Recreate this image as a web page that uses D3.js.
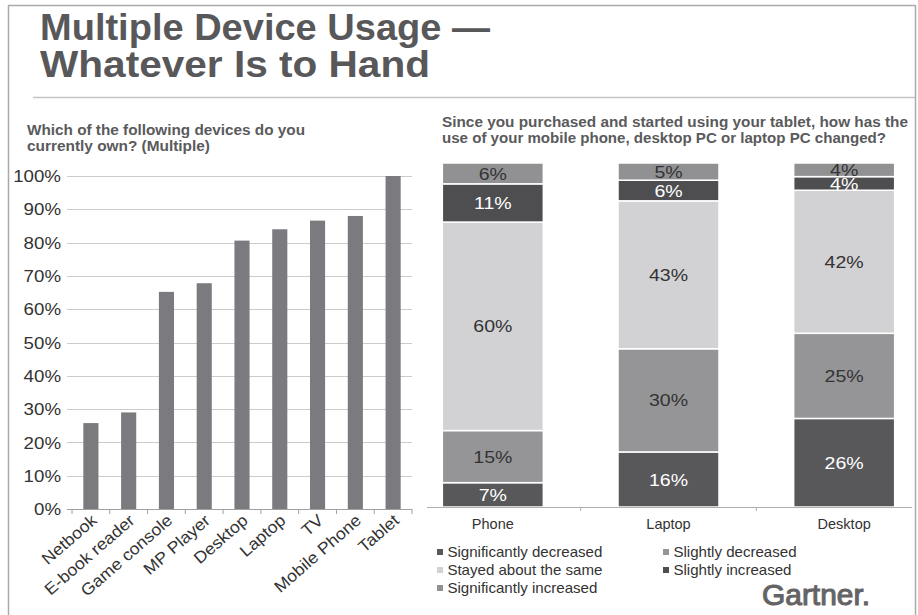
<!DOCTYPE html>
<html><head><meta charset="utf-8">
<script src="https://cdn.jsdelivr.net/npm/d3@7"></script>
<style>html,body{margin:0;padding:0;background:#fff;}svg{display:block;font-family:Arial,"Liberation Sans",sans-serif;}</style>
</head><body>
<script>
// ---- data ----
const devices = ["Netbook","E-book reader","Game console","MP Player","Desktop","Laptop","TV","Mobile Phone","Tablet"];
const ownership = [0.258, 0.29, 0.652, 0.678, 0.806, 0.84, 0.866, 0.88, 1.0];
const yTicks = [0,0.1,0.2,0.3,0.4,0.5,0.6,0.7,0.8,0.9,1.0];

const usageDevices = ["Phone","Laptop","Desktop"];
const usageSeries = ["Significantly decreased","Slightly decreased","Stayed about the same","Slightly increased","Significantly increased"];
const sigDecreased   = [7, 16, 26];
const slDecreased    = [15, 30, 25];
const stayedSame     = [60, 43, 42];
const slIncreased    = [11, 6, 4];
const sigIncreased   = [6, 5, 4];

const W = 918, H = 615;
const svg = d3.select("body").append("svg").attr("width", W).attr("height", H);
svg.append("rect").attr("width", W).attr("height", H).attr("fill", "#fff");

// frame
const frame = "#aaaaaa";
svg.append("line").attr("x1",8).attr("x2",915).attr("y1",5.5).attr("y2",5.5).attr("stroke",frame).attr("stroke-width",1.5);
svg.append("line").attr("x1",8.5).attr("x2",8.5).attr("y1",5).attr("y2",615).attr("stroke",frame).attr("stroke-width",1.5);
svg.append("line").attr("x1",915.5).attr("x2",915.5).attr("y1",5).attr("y2",615).attr("stroke",frame).attr("stroke-width",1.5);
svg.append("line").attr("x1",33).attr("x2",915).attr("y1",97.5).attr("y2",97.5).attr("stroke","#c4c4c4").attr("stroke-width",1.5);

// title
const title = svg.append("text").attr("fill","#58585a").attr("font-weight","bold").attr("font-size",36);
title.append("tspan").attr("x",40).attr("y",40).attr("textLength",450).attr("lengthAdjust","spacingAndGlyphs").text("Multiple Device Usage —");
title.append("tspan").attr("x",40).attr("y",77).attr("textLength",390).attr("lengthAdjust","spacingAndGlyphs").text("Whatever Is to Hand");

// ---- left chart ----
const lt = svg.append("text").attr("fill","#5a5a5c").attr("font-weight","bold").attr("font-size",14);
lt.append("tspan").attr("x",27).attr("y",135).attr("textLength",278).attr("lengthAdjust","spacingAndGlyphs").text("Which of the following devices do you");
lt.append("tspan").attr("x",27).attr("y",151).attr("textLength",183).attr("lengthAdjust","spacingAndGlyphs").text("currently own? (Multiple)");

const x1 = d3.scaleBand().domain(devices).range([72, 412]).paddingInner(0.6).paddingOuter(0.3);
const y1 = d3.scaleLinear().domain([0,1]).range([509, 176]);

const gL = svg.append("g");
gL.selectAll("line.grid").data(yTicks.filter(d=>d>0)).join("line")
  .attr("x1",67).attr("x2",412).attr("y1",d=>Math.round(y1(d))+0.5).attr("y2",d=>Math.round(y1(d))+0.5)
  .attr("stroke","#cccccc").attr("stroke-width",1.2);
gL.selectAll("text.yt").data(yTicks).join("text")
  .attr("text-anchor","end").attr("font-size",17).attr("fill","#333")
  .attr("transform",d=>`translate(61,${y1(d)}) scale(1.1,1)`).attr("dy","0.36em")
  .text(d3.format(".0%"));
gL.selectAll("rect").data(devices).join("rect")
  .attr("x",d=>x1(d)).attr("width",x1.bandwidth())
  .attr("y",(d,i)=>y1(ownership[i])).attr("height",(d,i)=>y1(0)-y1(ownership[i]))
  .attr("fill","#7b7b7f");
// bottom axis
gL.append("line").attr("x1",67).attr("x2",412).attr("y1",509.5).attr("y2",509.5).attr("stroke","#a0a0a0").attr("stroke-width",1.2);
const bounds1 = d3.range(devices.length+1).map(i=>72 + i*x1.step());
gL.selectAll("line.tk").data(bounds1).join("line")
  .attr("x1",d=>d).attr("x2",d=>d).attr("y1",509).attr("y2",514).attr("stroke","#a0a0a0");
gL.selectAll("text.xl").data(devices).join("text")
  .attr("text-anchor","end").attr("font-size",16.5).attr("fill","#333")
  .attr("transform",d=>`translate(${x1(d)+x1.bandwidth()/2+7},${522}) rotate(-41) scale(1.08,1)`)
  .text(d=>d);

// ---- right chart ----
const rt = svg.append("text").attr("fill","#5a5a5c").attr("font-weight","bold").attr("font-size",14);
rt.append("tspan").attr("x",442).attr("y",127).attr("textLength",466).attr("lengthAdjust","spacingAndGlyphs").text("Since you purchased and started using your tablet, how has the");
rt.append("tspan").attr("x",442).attr("y",143).attr("textLength",444).attr("lengthAdjust","spacingAndGlyphs").text("use of your mobile phone, desktop PC or laptop PC changed?");

const seriesVals = [sigDecreased, slDecreased, stayedSame, slIncreased, sigIncreased];
const table = usageDevices.map((d,i)=>{
  const o = {device:d};
  usageSeries.forEach((s,j)=>o[s]=seriesVals[j][i]);
  return o;
});
const stack = d3.stack().keys(usageSeries).offset(d3.stackOffsetExpand);
const layers = stack(table);

const x2 = d3.scaleBand().domain(usageDevices).range([405, 932]).paddingInner(0.425).paddingOuter(0.2125);
const y2 = d3.scaleLinear().domain([0,1]).range([507, 163]);
const fills = ["#58585a","#959597","#d2d2d4","#4e4e50","#919193"];
const labelFill = ["#ffffff","#333333","#333333","#ffffff","#333333"];

const gR = svg.append("g");
layers.forEach((layer,j)=>{
  const g = gR.append("g");
  g.selectAll("rect").data(layer).join("rect")
    .attr("x",d=>x2(d.data.device)).attr("width",x2.bandwidth())
    .attr("y",d=>y2(d[1])).attr("height",d=>y2(d[0])-y2(d[1]))
    .attr("fill",fills[j]).attr("stroke","#fff").attr("stroke-width",1.5);
});
layers.forEach((layer,j)=>{
  gR.append("g").selectAll("text").data(layer).join("text")
    .attr("transform",d=>`translate(${x2(d.data.device)+x2.bandwidth()/2},${(y2(d[0])+y2(d[1]))/2}) scale(1.15,1)`)
    .attr("dy","0.36em")
    .attr("text-anchor","middle").attr("font-size",17).attr("fill",labelFill[j])
    .text(d=>d.data[layer.key]+"%");
});
// axis
gR.append("line").attr("x1",427).attr("x2",912).attr("y1",507.5).attr("y2",507.5).attr("stroke","#b0b0b0").attr("stroke-width",1.2);
const bounds2 = [1,2].map(i=>405 + i*x2.step());
gR.selectAll("line.tk").data(bounds2).join("line")
  .attr("x1",d=>d).attr("x2",d=>d).attr("y1",507).attr("y2",511).attr("stroke","#b0b0b0");
gR.selectAll("text.xl").data(usageDevices).join("text")
  .attr("x",d=>x2(d)+x2.bandwidth()/2).attr("y",529).attr("text-anchor","middle")
  .attr("font-size",14.5).attr("fill","#333").text(d=>d);

// legend
const legPos = [[437,552],[663,552],[437,570],[663,570],[437,588]];
const leg = svg.append("g").selectAll("g").data(usageSeries).join("g")
  .attr("transform",(d,i)=>`translate(${legPos[i][0]},${legPos[i][1]})`);
leg.append("rect").attr("x",0).attr("y",-3).attr("width",6).attr("height",6).attr("fill",(d,i)=>fills[i]);
leg.append("text").attr("x",10).attr("dy","0.36em").attr("font-size",14.5).attr("fill","#333")
  .attr("transform","scale(1.04,1)").text(d=>d);

// logo
svg.append("text").attr("x",762).attr("y",605).attr("font-size",30).attr("font-weight","normal")
  .attr("fill","#646466").attr("stroke","#646466").attr("stroke-width",1.1)
  .attr("textLength",108).attr("lengthAdjust","spacingAndGlyphs").text("Gartner.");
</script>
</body></html>
